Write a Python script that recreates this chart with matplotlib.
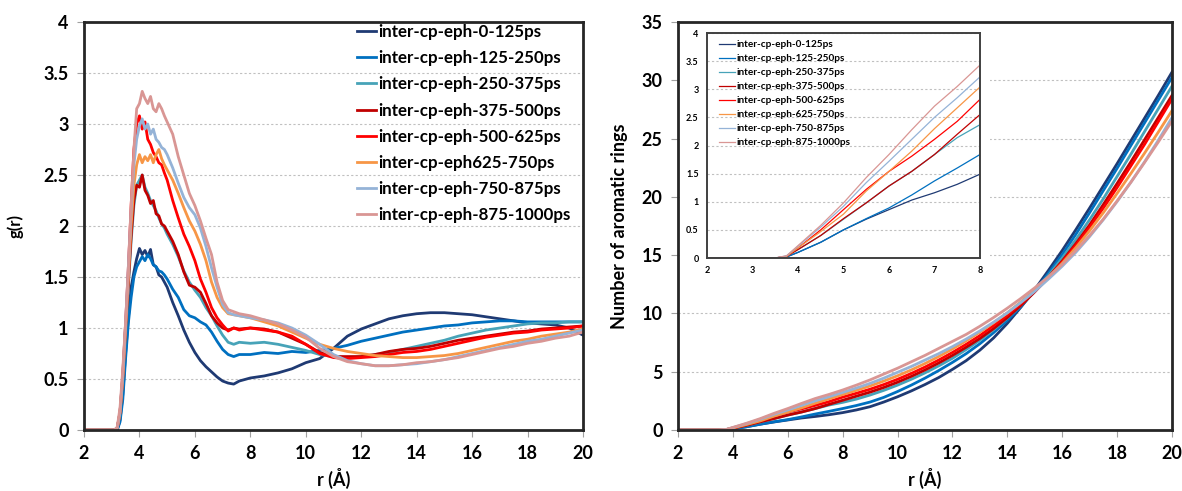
import matplotlib
matplotlib.use("Agg")
import matplotlib.pyplot as plt

plt.rcParams['font.family'] = ['Lato', 'DejaVu Sans']
plt.rcParams['font.weight'] = 'bold'

labels_left = ["inter-cp-eph-0-125ps", "inter-cp-eph-125-250ps", "inter-cp-eph-250-375ps",
               "inter-cp-eph-375-500ps", "inter-cp-eph-500-625ps", "inter-cp-eph625-750ps",
               "inter-cp-eph-750-875ps", "inter-cp-eph-875-1000ps"]
labels_inset = ["inter-cp-eph-0-125ps", "inter-cp-eph-125-250ps", "inter-cp-eph-250-375ps",
                "inter-cp-eph-375-500ps", "inter-cp-eph-500-625ps", "inter-cp-eph-625-750ps",
                "inter-cp-eph-750-875ps", "inter-cp-eph-875-1000ps"]
colors = ['#1F3A73', '#0070C0', '#47A3B8', '#C00000', '#FF0000', '#F79646', '#95B3D7', '#D99694']

# ---- g(r) data ----
r_g = [2.0, 3.0, 3.1, 3.2, 3.3, 3.4, 3.5, 3.6, 3.7, 3.8, 3.9, 4.0, 4.1, 4.2, 4.3, 4.4, 4.5, 4.6,
       4.7, 4.8, 4.9, 5.0, 5.2, 5.4, 5.6, 5.8, 6.0, 6.2, 6.4, 6.6, 6.8, 7.0, 7.2, 7.4, 7.6, 8.0,
       8.5, 9.0, 9.5, 10.0, 10.5, 11.0, 11.5, 12.0, 12.5, 13.0, 13.5, 14.0, 14.5, 15.0, 15.5,
       16.0, 16.5, 17.0, 17.5, 18.0, 18.5, 19.0, 19.5, 20.0]

g_0_125 = [0, 0, 0, 0.0, 0.1, 0.35, 0.75, 1.1, 1.4, 1.55, 1.68, 1.78, 1.72, 1.76, 1.7, 1.77, 1.62,
           1.6, 1.52, 1.5, 1.45, 1.4, 1.25, 1.12, 0.98, 0.86, 0.76, 0.68, 0.62, 0.57, 0.52, 0.48,
           0.46, 0.45, 0.48, 0.51, 0.53, 0.56, 0.6, 0.66, 0.7, 0.8, 0.92, 0.99, 1.04, 1.09, 1.12,
           1.14, 1.15, 1.15, 1.14, 1.13, 1.11, 1.09, 1.07, 1.05, 1.04, 1.03, 1.0, 0.93]
g_125_250 = [0, 0, 0, 0, 0.08, 0.3, 0.7, 1.05, 1.3, 1.5, 1.6, 1.65, 1.7, 1.66, 1.72, 1.68, 1.62,
             1.6, 1.56, 1.55, 1.52, 1.48, 1.38, 1.3, 1.18, 1.12, 1.1, 1.06, 1.03, 0.96, 0.87, 0.79,
             0.74, 0.72, 0.74, 0.74, 0.76, 0.75, 0.77, 0.76, 0.78, 0.8, 0.83, 0.87, 0.9, 0.93,
             0.96, 0.98, 1.0, 1.02, 1.03, 1.05, 1.06, 1.07, 1.07, 1.06, 1.06, 1.06, 1.06, 1.06]
g_250_375 = [0, 0, 0, 0.02, 0.15, 0.5, 0.95, 1.4, 1.85, 2.2, 2.4, 2.45, 2.5, 2.38, 2.32, 2.25,
             2.2, 2.15, 2.08, 2.02, 1.98, 1.92, 1.82, 1.7, 1.56, 1.45, 1.37, 1.3, 1.2, 1.12, 1.02,
             0.93, 0.86, 0.84, 0.86, 0.85, 0.86, 0.84, 0.81, 0.78, 0.74, 0.72, 0.71, 0.72, 0.74,
             0.76, 0.79, 0.82, 0.85, 0.88, 0.92, 0.95, 0.98, 1.0, 1.02, 1.04, 1.05, 1.05, 1.06, 1.06]
g_375_500 = [0, 0, 0, 0.02, 0.17, 0.52, 1.0, 1.45, 1.9, 2.25, 2.4, 2.38, 2.5, 2.35, 2.3, 2.22,
             2.25, 2.12, 2.1, 2.02, 2.0, 1.95, 1.85, 1.72, 1.55, 1.42, 1.4, 1.35, 1.24, 1.12, 1.05,
             1.0, 0.98, 1.0, 0.99, 1.0, 0.99, 0.96, 0.9, 0.84, 0.76, 0.72, 0.72, 0.72, 0.74, 0.77,
             0.79, 0.8, 0.82, 0.85, 0.88, 0.9, 0.92, 0.94, 0.96, 0.97, 0.99, 1.0, 1.01, 1.02]
g_500_625 = [0, 0, 0, 0.02, 0.18, 0.55, 1.05, 1.6, 2.2, 2.75, 3.0, 3.08, 2.95, 3.02, 2.85, 2.8,
             2.72, 2.68, 2.62, 2.6, 2.52, 2.45, 2.25, 2.08, 1.92, 1.8, 1.66, 1.48, 1.35, 1.2, 1.1,
             1.03, 0.97, 1.0, 0.98, 1.0, 0.98, 0.96, 0.92, 0.84, 0.75, 0.71, 0.7, 0.71, 0.72,
             0.74, 0.76, 0.77, 0.79, 0.82, 0.85, 0.88, 0.91, 0.93, 0.95, 0.96, 0.98, 0.99, 1.0, 1.02]
g_625_750 = [0, 0, 0, 0.02, 0.17, 0.52, 1.0, 1.5, 2.0, 2.4, 2.6, 2.7, 2.62, 2.68, 2.64, 2.7, 2.62,
             2.7, 2.75, 2.66, 2.6, 2.55, 2.45, 2.32, 2.18, 2.05, 1.95, 1.82, 1.66, 1.45, 1.3, 1.2,
             1.14, 1.13, 1.12, 1.1, 1.06, 1.02, 0.96, 0.9, 0.84, 0.8, 0.77, 0.75, 0.73, 0.72, 0.71,
             0.71, 0.72, 0.73, 0.75, 0.78, 0.81, 0.84, 0.87, 0.89, 0.92, 0.94, 0.96, 0.99]
g_750_875 = [0, 0, 0, 0.02, 0.18, 0.55, 1.05, 1.6, 2.15, 2.6, 2.85, 2.98, 3.05, 2.95, 3.0, 2.9,
             2.95, 2.85, 2.82, 2.77, 2.75, 2.7, 2.57, 2.42, 2.28, 2.18, 2.11, 1.98, 1.8, 1.59, 1.4,
             1.23, 1.15, 1.13, 1.12, 1.1, 1.08, 1.05, 1.0, 0.93, 0.84, 0.74, 0.68, 0.65, 0.63,
             0.63, 0.64, 0.65, 0.67, 0.69, 0.72, 0.75, 0.78, 0.81, 0.84, 0.87, 0.89, 0.92, 0.95, 0.98]
g_875_1000 = [0, 0, 0, 0.03, 0.22, 0.6, 1.05, 1.55, 2.2, 2.75, 3.15, 3.2, 3.32, 3.25, 3.2, 3.27,
              3.15, 3.12, 3.2, 3.15, 3.08, 3.02, 2.9, 2.68, 2.5, 2.32, 2.2, 2.05, 1.88, 1.72, 1.45,
              1.27, 1.18, 1.16, 1.14, 1.12, 1.08, 1.04, 0.98, 0.91, 0.8, 0.72, 0.67, 0.65, 0.63,
              0.63, 0.64, 0.66, 0.67, 0.69, 0.71, 0.74, 0.77, 0.8, 0.82, 0.85, 0.87, 0.9, 0.92, 0.96]
g_series = [g_0_125, g_125_250, g_250_375, g_375_500, g_500_625, g_625_750, g_750_875, g_875_1000]

# ---- cumulative number data ----
r_n = [2.0, 3.0, 3.5, 3.75, 4.0, 4.5, 5.0, 5.5, 6.0, 6.5, 7.0, 7.5, 8.0, 8.5, 9.0, 9.5, 10.0,
       10.5, 11.0, 11.5, 12.0, 12.5, 13.0, 13.5, 14.0, 14.5, 15.0, 15.5, 16.0, 16.5, 17.0, 17.5,
       18.0, 18.5, 19.0, 19.5, 20.0]
n_0_125 = [0, 0, 0, 0.02, 0.1, 0.28, 0.5, 0.69, 0.86, 1.03, 1.16, 1.31, 1.49, 1.72, 2.0, 2.4,
           2.85, 3.35, 3.9, 4.5, 5.2, 5.95, 6.85, 7.9, 9.15, 10.55, 12.05, 13.7, 15.4, 17.2,
           19.05, 20.95, 22.85, 24.8, 26.75, 28.7, 30.7]
n_125_250 = [0, 0, 0, 0.02, 0.1, 0.28, 0.5, 0.7, 0.89, 1.12, 1.37, 1.6, 1.84, 2.1, 2.4, 2.8,
             3.3, 3.85, 4.45, 5.1, 5.8, 6.55, 7.4, 8.35, 9.4, 10.6, 11.95, 13.45, 15.05, 16.8,
             18.65, 20.55, 22.45, 24.4, 26.35, 28.3, 30.25]
n_250_375 = [0, 0, 0, 0.03, 0.15, 0.4, 0.69, 0.98, 1.28, 1.54, 1.84, 2.14, 2.37, 2.65, 3.0, 3.4,
             3.85, 4.35, 4.9, 5.5, 6.15, 6.9, 7.7, 8.6, 9.6, 10.7, 11.9, 13.25, 14.75, 16.35,
             18.05, 19.85, 21.75, 23.65, 25.6, 27.55, 29.5]
n_375_500 = [0, 0, 0, 0.03, 0.15, 0.4, 0.7, 0.98, 1.28, 1.54, 1.84, 2.2, 2.55, 2.9, 3.25, 3.65,
             4.1, 4.6, 5.15, 5.75, 6.4, 7.1, 7.85, 8.7, 9.65, 10.7, 11.85, 13.1, 14.5, 16.0,
             17.6, 19.35, 21.15, 23.0, 24.9, 26.8, 28.7]
n_500_625 = [0, 0, 0, 0.03, 0.18, 0.5, 0.86, 1.22, 1.54, 1.81, 2.11, 2.43, 2.82, 3.15, 3.5, 3.9,
             4.35, 4.85, 5.4, 6.0, 6.65, 7.35, 8.1, 8.95, 9.85, 10.85, 11.9, 13.1, 14.4, 15.85,
             17.4, 19.05, 20.8, 22.65, 24.5, 26.45, 28.4]
n_625_750 = [0, 0, 0, 0.03, 0.18, 0.47, 0.78, 1.19, 1.54, 1.9, 2.3, 2.67, 3.04, 3.4, 3.78, 4.2,
             4.65, 5.15, 5.7, 6.3, 6.95, 7.65, 8.4, 9.2, 10.05, 11.0, 12.0, 13.1, 14.3, 15.65,
             17.1, 18.65, 20.3, 22.0, 23.75, 25.55, 27.4]
n_750_875 = [0, 0, 0, 0.04, 0.21, 0.55, 0.92, 1.34, 1.72, 2.11, 2.5, 2.85, 3.22, 3.6, 4.0, 4.45,
             4.95, 5.45, 6.0, 6.55, 7.15, 7.8, 8.5, 9.25, 10.05, 10.95, 11.9, 12.95, 14.05, 15.25,
             16.6, 18.05, 19.6, 21.25, 23.0, 24.85, 26.8]
n_875_1000 = [0, 0, 0, 0.04, 0.22, 0.58, 0.98, 1.43, 1.84, 2.28, 2.7, 3.05, 3.43, 3.85, 4.3, 4.8,
              5.3, 5.85, 6.4, 7.0, 7.6, 8.2, 8.9, 9.65, 10.45, 11.3, 12.2, 13.15, 14.2, 15.4,
              16.7, 18.1, 19.65, 21.25, 22.95, 24.7, 26.5]
n_series = [n_0_125, n_125_250, n_250_375, n_375_500, n_500_625, n_625_750, n_750_875, n_875_1000]

x_ticks = [2, 4, 6, 8, 10, 12, 14, 16, 18, 20]
g_ticks = [0, 0.5, 1, 1.5, 2, 2.5, 3, 3.5, 4]
g_ticklabels = ['0', '0.5', '1', '1.5', '2', '2.5', '3', '3.5', '4']
n_ticks = [0, 5, 10, 15, 20, 25, 30, 35]
inset_xticks = [2, 3, 4, 5, 6, 7, 8]

W, H = 1182, 491
fig = plt.figure(figsize=(W / 100, H / 100), dpi=100)

def fx(px):
    return px / W

def fy(py):
    return 1 - py / H

grid_kw = dict(color='#c0c0c0', linestyle=(0, (2, 2)), linewidth=0.8)
spine_col = '#262626'

def style_axes(ax, lw=2.0):
    for s in ax.spines.values():
        s.set_linewidth(lw)
        s.set_color(spine_col)
    ax.tick_params(axis='both', direction='out', length=5, width=0.8, color='#a0a0a0',
                   labelsize=13, pad=6)
    for lab in ax.get_xticklabels() + ax.get_yticklabels():
        lab.set_fontweight('bold')

# ---- left panel ----
axL = fig.add_axes([fx(84), fy(430), fx(583 - 84), (430 - 22) / H])
for ys, c, lab in zip(g_series, colors, labels_left):
    axL.plot(r_g, ys, color=c, lw=2.0, label=lab)
axL.set_xlim(2, 20)
axL.set_ylim(0, 4)
axL.set_xticks(x_ticks)
axL.set_yticks(g_ticks)
axL.set_yticklabels(g_ticklabels)
axL.yaxis.grid(True, **grid_kw)
axL.set_axisbelow(True)
style_axes(axL)
axL.set_ylabel('g(r)', fontsize=12, fontweight='bold', labelpad=14)
axL.set_xlabel('r (Å)', fontsize=13, fontweight='bold', labelpad=4)
leg = axL.legend(loc='upper left', bbox_to_anchor=((357 - 84) / 499, 0.995), frameon=False,
                 prop={'weight': 'bold', 'size': 12.2}, handlelength=1.1, handletextpad=0.15,
                 labelspacing=0.6, borderaxespad=0.0, borderpad=0.0)

# ---- right panel ----
axR = fig.add_axes([fx(678), fy(430), fx(1172 - 678), (430 - 22) / H])
for ys, c, lab in zip(n_series, colors, labels_inset):
    axR.plot(r_n, ys, color=c, lw=2.0)
axR.set_xlim(2, 20)
axR.set_ylim(0, 35)
axR.set_xticks(x_ticks)
axR.set_yticks(n_ticks)
axR.yaxis.grid(True, **grid_kw)
axR.set_axisbelow(True)
style_axes(axR)
axR.set_ylabel('Number of aromatic rings', fontsize=13, fontweight='bold', labelpad=10)
axR.set_xlabel('r (Å)', fontsize=13, fontweight='bold', labelpad=4)

# white chart area behind inset
bg = fig.add_axes([fx(680), fy(288), fx(990 - 680), (288 - 25) / H])
bg.set_facecolor('white')
bg.set_xticks([])
bg.set_yticks([])
for s in bg.spines.values():
    s.set_visible(False)

# ---- inset ----
axI = fig.add_axes([fx(707), fy(258), fx(980 - 707), (258 - 33) / H])
for ys, c, lab in zip(n_series, colors, labels_inset):
    axI.plot(r_n, ys, color=c, lw=0.9, label=lab)
axI.set_xlim(2, 8)
axI.set_ylim(0, 4)
axI.set_xticks(inset_xticks)
axI.set_yticks(g_ticks)
axI.set_yticklabels(g_ticklabels)
axI.yaxis.grid(True, **grid_kw)
axI.set_axisbelow(True)
for s in axI.spines.values():
    s.set_linewidth(1.4)
    s.set_color('#404040')
axI.tick_params(axis='both', length=0, labelsize=6.5, pad=6)
for lab in axI.get_xticklabels() + axI.get_yticklabels():
    lab.set_fontweight('bold')
axI.legend(loc='upper left', frameon=False, prop={'weight': 'bold', 'size': 7.2},
           handlelength=1.6, handletextpad=0.1, labelspacing=0.5, borderaxespad=0.3,
           bbox_to_anchor=(0.02, 1.0))

fig.savefig('out.png', dpi=100)
